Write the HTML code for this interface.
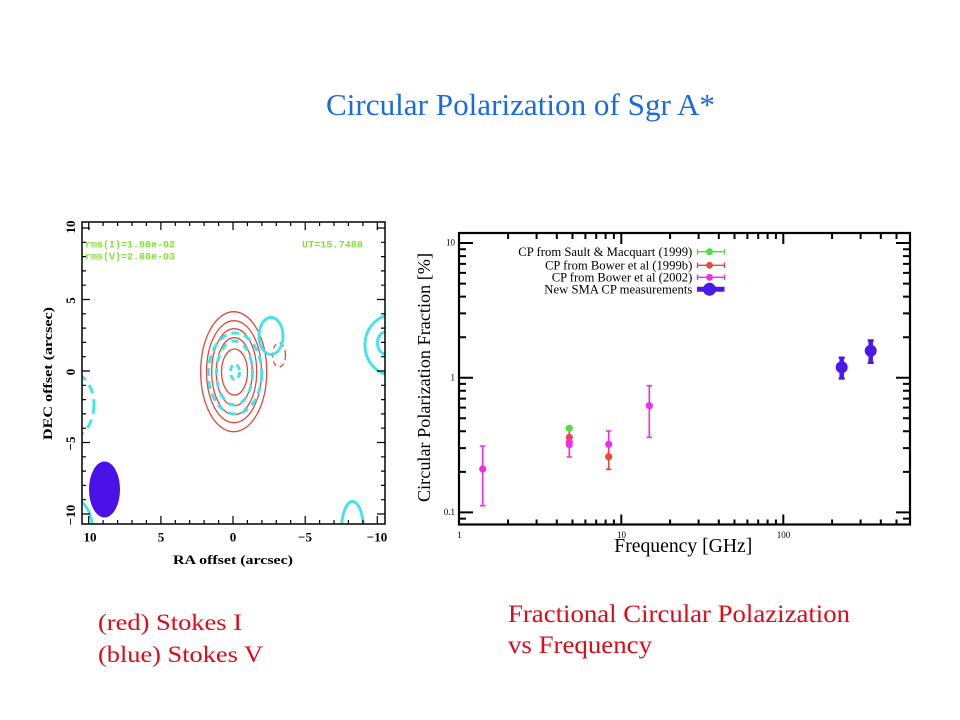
<!DOCTYPE html>
<html><head><meta charset="utf-8"><style>
html,body{margin:0;padding:0;background:#fff;}
svg{display:block;}
</style></head><body>
<svg width="960" height="720" viewBox="0 0 960 720" xmlns="http://www.w3.org/2000/svg">
<rect width="960" height="720" fill="#fff"/>
<!-- Title -->
<text x="326" y="115" font-family="Liberation Serif, serif" font-size="31" fill="#1a6ae6" textLength="389" lengthAdjust="spacingAndGlyphs">Circular Polarization of Sgr A*</text>

<!-- ============ LEFT PLOT ============ -->
<defs>
<clipPath id="lc"><rect x="82" y="222" width="303" height="302"/></clipPath>
</defs>
<g clip-path="url(#lc)" fill="none">
  <!-- red contours -->
  <g stroke="#e2473c" stroke-width="1.3">
    <ellipse cx="233.7" cy="371.7" rx="33" ry="60"/>
    <ellipse cx="234" cy="371.7" rx="27.5" ry="51"/>
    <ellipse cx="234.2" cy="371.7" rx="22.5" ry="43"/>
    <ellipse cx="234.3" cy="371.7" rx="18" ry="34"/>
    <ellipse cx="234.5" cy="372" rx="13" ry="23"/>
  </g>
  <ellipse cx="279" cy="355" rx="6.5" ry="12" stroke="#e2473c" stroke-width="1.3" stroke-dasharray="5,4"/>
  <!-- cyan -->
  <g stroke="#44e2ea" stroke-width="2.9">
    <ellipse cx="235" cy="373.5" rx="26.7" ry="40.5" stroke-dasharray="8,5"/>
    <ellipse cx="234.5" cy="373" rx="18" ry="32" stroke-dasharray="7,6"/>
    <ellipse cx="235" cy="372" rx="4.5" ry="7.5" stroke-dasharray="6,4"/>
    <ellipse cx="271" cy="336" rx="12" ry="18.5"/>
    <ellipse cx="72" cy="405" rx="22" ry="32" stroke-dasharray="9,6"/>
    <ellipse cx="392" cy="345" rx="27" ry="30"/>
    <ellipse cx="385.5" cy="343" rx="8" ry="11"/>
    <ellipse cx="352.5" cy="530" rx="11" ry="28.5"/>
    <ellipse cx="77" cy="531" rx="15.5" ry="30"/>
  </g>
  <!-- beam -->
  <ellipse cx="104.5" cy="489.5" rx="15.5" ry="28" fill="#4a12e8" stroke="none"/>
</g>
<!-- green annotations -->
<g font-family="Liberation Mono, monospace" font-size="10" font-weight="bold" fill="#86e23a">
  <text x="85" y="247.5" textLength="90" lengthAdjust="spacingAndGlyphs">rms(I)=1.98e-02</text>
  <text x="85" y="259.5" textLength="90" lengthAdjust="spacingAndGlyphs">rms(V)=2.88e-03</text>
  <text x="302" y="247.5" textLength="61" lengthAdjust="spacingAndGlyphs">UT=15.7488</text>
</g>
<!-- frame -->
<rect x="82" y="222" width="303" height="302" fill="none" stroke="#000" stroke-width="1.5"/>
<!-- ticks left plot -->
<g stroke="#000" stroke-width="1.2">
  <path d="
  M88.7 524v-8 M103.1 524v-4 M117.6 524v-4 M132 524v-4 M146.4 524v-4 M160.9 524v-8 M175.3 524v-4 M189.7 524v-4 M204.1 524v-4 M218.6 524v-4 M233 524v-8 M247.4 524v-4 M261.9 524v-4 M276.3 524v-4 M290.7 524v-4 M305.2 524v-8 M319.6 524v-4 M334 524v-4 M348.4 524v-4 M362.9 524v-4 M377.3 524v-8
  M88.7 222v8 M103.1 222v4 M117.6 222v4 M132 222v4 M146.4 222v4 M160.9 222v8 M175.3 222v4 M189.7 222v4 M204.1 222v4 M218.6 222v4 M233 222v8 M247.4 222v4 M261.9 222v4 M276.3 222v4 M290.7 222v4 M305.2 222v8 M319.6 222v4 M334 222v4 M348.4 222v4 M362.9 222v4 M377.3 222v8
  M82 228h8 M82 242.3h4 M82 256.6h4 M82 270.9h4 M82 285.2h4 M82 299.5h8 M82 313.8h4 M82 328.1h4 M82 342.4h4 M82 356.7h4 M82 371h8 M82 385.3h4 M82 399.6h4 M82 413.9h4 M82 428.2h4 M82 442.5h8 M82 456.8h4 M82 471.1h4 M82 485.4h4 M82 499.7h4 M82 514h8
  M385 228h-8 M385 242.3h-4 M385 256.6h-4 M385 270.9h-4 M385 285.2h-4 M385 299.5h-8 M385 313.8h-4 M385 328.1h-4 M385 342.4h-4 M385 356.7h-4 M385 371h-8 M385 385.3h-4 M385 399.6h-4 M385 413.9h-4 M385 428.2h-4 M385 442.5h-8 M385 456.8h-4 M385 471.1h-4 M385 485.4h-4 M385 499.7h-4 M385 514h-8"/>
</g>
<!-- left plot labels -->
<g font-family="Liberation Serif, serif" font-weight="bold" font-size="13" fill="#000" text-anchor="middle">
  <text x="90" y="541.5">10</text>
  <text x="161" y="541.5">5</text>
  <text x="233" y="541.5">0</text>
  <text x="305" y="541.5">−5</text>
  <text x="377" y="541.5">−10</text>
  <text x="233" y="564" textLength="120" lengthAdjust="spacingAndGlyphs">RA offset (arcsec)</text>
  <text transform="translate(75,227) rotate(-90)">10</text>
  <text transform="translate(75,300.5) rotate(-90)">5</text>
  <text transform="translate(75,372) rotate(-90)">0</text>
  <text transform="translate(75,443.5) rotate(-90)">−5</text>
  <text transform="translate(75,515) rotate(-90)">−10</text>
  <text transform="translate(52,373.5) rotate(-90)" textLength="133" lengthAdjust="spacingAndGlyphs">DEC offset (arcsec)</text>
</g>

<!-- ============ RIGHT PLOT ============ -->
<rect x="459" y="233" width="451" height="291.5" fill="none" stroke="#000" stroke-width="2.2"/>
<g stroke="#000" stroke-width="2">
  <path d="
  M508.1 524.5v-5 M536.6 524.5v-5 M556.8 524.5v-5 M572.5 524.5v-5 M585.4 524.5v-5 M596.2 524.5v-5 M605.6 524.5v-5 M613.9 524.5v-5 M621.3 524.5v-10 M670.1 524.5v-5 M698.6 524.5v-5 M718.8 524.5v-5 M734.5 524.5v-5 M747.4 524.5v-5 M758.2 524.5v-5 M767.6 524.5v-5 M775.9 524.5v-5 M783.3 524.5v-10 M832.1 524.5v-5 M860.6 524.5v-5 M880.8 524.5v-5 M896.5 524.5v-5
  M508.1 233v6 M536.6 233v6 M556.8 233v6 M572.5 233v6 M585.4 233v6 M596.2 233v6 M605.6 233v6 M613.9 233v6 M621.3 233v11 M670.1 233v6 M698.6 233v6 M718.8 233v6 M734.5 233v6 M747.4 233v6 M758.2 233v6 M767.6 233v6 M775.9 233v6 M783.3 233v11 M832.1 233v6 M860.6 233v6 M880.8 233v6 M896.5 233v6
  M459 518.6h7 M459 512.4h14 M459 471.9h7 M459 448.1h7 M459 431.3h7 M459 418.2h7 M459 407.6h7 M459 398.6h7 M459 390.8h7 M459 383.9h7 M459 377.7h14 M459 337.2h7 M459 313.4h7 M459 296.6h7 M459 283.6h7 M459 272.9h7 M459 263.9h7 M459 256.1h7 M459 249.2h7 M459 243h14
  M910 518.6h-7 M910 512.4h-14 M910 471.9h-7 M910 448.1h-7 M910 431.3h-7 M910 418.2h-7 M910 407.6h-7 M910 398.6h-7 M910 390.8h-7 M910 383.9h-7 M910 377.7h-14 M910 337.2h-7 M910 313.4h-7 M910 296.6h-7 M910 283.6h-7 M910 272.9h-7 M910 263.9h-7 M910 256.1h-7 M910 249.2h-7 M910 243h-14"/>
</g>
<!-- right tick labels -->
<g font-family="Liberation Serif, serif" font-size="9" fill="#000">
  <g text-anchor="end">
    <text x="455" y="245.5">10</text>
    <text x="455" y="380.5">1</text>
    <text x="455" y="515">0.1</text>
  </g>
  <g text-anchor="middle">
    <text x="459.5" y="538">1</text>
    <text x="621.5" y="538">10</text>
    <text x="783.5" y="538">100</text>
  </g>
</g>
<text x="614.3" y="552" font-family="Liberation Serif, serif" font-size="20" fill="#000" textLength="138" lengthAdjust="spacingAndGlyphs">Frequency [GHz]</text>
<text transform="translate(430,502) rotate(-90)" font-family="Liberation Serif, serif" font-size="18" fill="#000" textLength="249" lengthAdjust="spacingAndGlyphs">Circular Polarization Fraction [%]</text>

<!-- data -->
<g stroke-width="1.6" fill="none">
  <g stroke="#ee2ee8">
    <path d="M482.7 446V505.7 M480 446h5.4 M480 505.7h5.4"/>
    <path d="M569.3 429V457 M566.6 457h5.4"/>
    <path d="M608.7 431V456 M606 431h5.4"/>
    <path d="M649.3 385.7V437.3 M646.6 385.7h5.4 M646.6 437.3h5.4"/>
  </g>
  <g stroke="#e8443a">
    <path d="M608.7 450V469.3 M606 469.3h5.4"/>
    <path d="M569.3 434V441"/>
  </g>
</g>
<g stroke="none">
  <circle cx="569.3" cy="428.3" r="3.6" fill="#4ee03a"/>
  <circle cx="569.3" cy="437.3" r="3.6" fill="#ea4a3a"/>
  <circle cx="608.7" cy="456.7" r="3.6" fill="#ea4a3a"/>
  <g fill="#ee2ee8">
    <circle cx="482.7" cy="469" r="3.6"/>
    <circle cx="569.3" cy="442" r="3.6"/>
    <circle cx="569.3" cy="445" r="3.4"/>
    <circle cx="608.7" cy="444.3" r="3.6"/>
    <circle cx="649.3" cy="405.7" r="3.6"/>
  </g>
</g>
<!-- blue SMA points -->
<g fill="#4a18e8" stroke="#4a18e8">
  <path d="M841.7 357.3V379 M870.7 340V363.3" stroke-width="4.5" fill="none"/>
  <path d="M838.7 357.8h6 M838.7 378.5h6 M867.7 340.5h6 M867.7 362.8h6" stroke-width="2.5" fill="none"/>
  <circle cx="841.7" cy="367.3" r="6" stroke="none"/>
  <circle cx="870.7" cy="350.7" r="6" stroke="none"/>
</g>

<!-- legend -->
<g font-family="Liberation Serif, serif" font-size="12.6" fill="#000">
  <text x="518.3" y="256" textLength="174" lengthAdjust="spacingAndGlyphs">CP from Sault &amp; Macquart (1999)</text>
  <text x="545" y="269.5" textLength="147.3" lengthAdjust="spacingAndGlyphs">CP from Bower et al (1999b)</text>
  <text x="551.7" y="281.5" textLength="140.6" lengthAdjust="spacingAndGlyphs">CP from Bower et al (2002)</text>
  <text x="544.3" y="293.5" textLength="148" lengthAdjust="spacingAndGlyphs">New SMA CP measurements</text>
</g>
<g stroke-width="1.4" fill="none">
  <path d="M697.5 251.7h27 M697.5 249v5.4 M724.5 249v5.4" stroke="#4ee03a"/>
  <path d="M697.5 265.3h27 M697.5 262.6v5.4 M724.5 262.6v5.4" stroke="#ea4a3a"/>
  <path d="M697.5 277.3h27 M697.5 274.6v5.4 M724.5 274.6v5.4" stroke="#ee2ee8"/>
  <path d="M697 289.3h27.5" stroke="#4a18e8" stroke-width="5"/>
</g>
<circle cx="709.5" cy="251.7" r="3.4" fill="#4ee03a"/>
<circle cx="709.5" cy="265.3" r="3.4" fill="#ea4a3a"/>
<circle cx="709.5" cy="277.3" r="3.4" fill="#ee2ee8"/>
<circle cx="709.5" cy="289.3" r="6.5" fill="#4a18e8"/>

<!-- bottom captions -->
<g font-family="Liberation Serif, serif" fill="#dd0a1a">
  <text x="98" y="630" font-size="23" textLength="144" lengthAdjust="spacingAndGlyphs">(red) Stokes I</text>
  <text x="98" y="662" font-size="23" textLength="165" lengthAdjust="spacingAndGlyphs">(blue) Stokes V</text>
  <text x="508" y="622" font-size="25" textLength="342" lengthAdjust="spacingAndGlyphs">Fractional Circular Polazization</text>
  <text x="508" y="653" font-size="25" textLength="144" lengthAdjust="spacingAndGlyphs">vs Frequency</text>
</g>
</svg>
</body></html>
